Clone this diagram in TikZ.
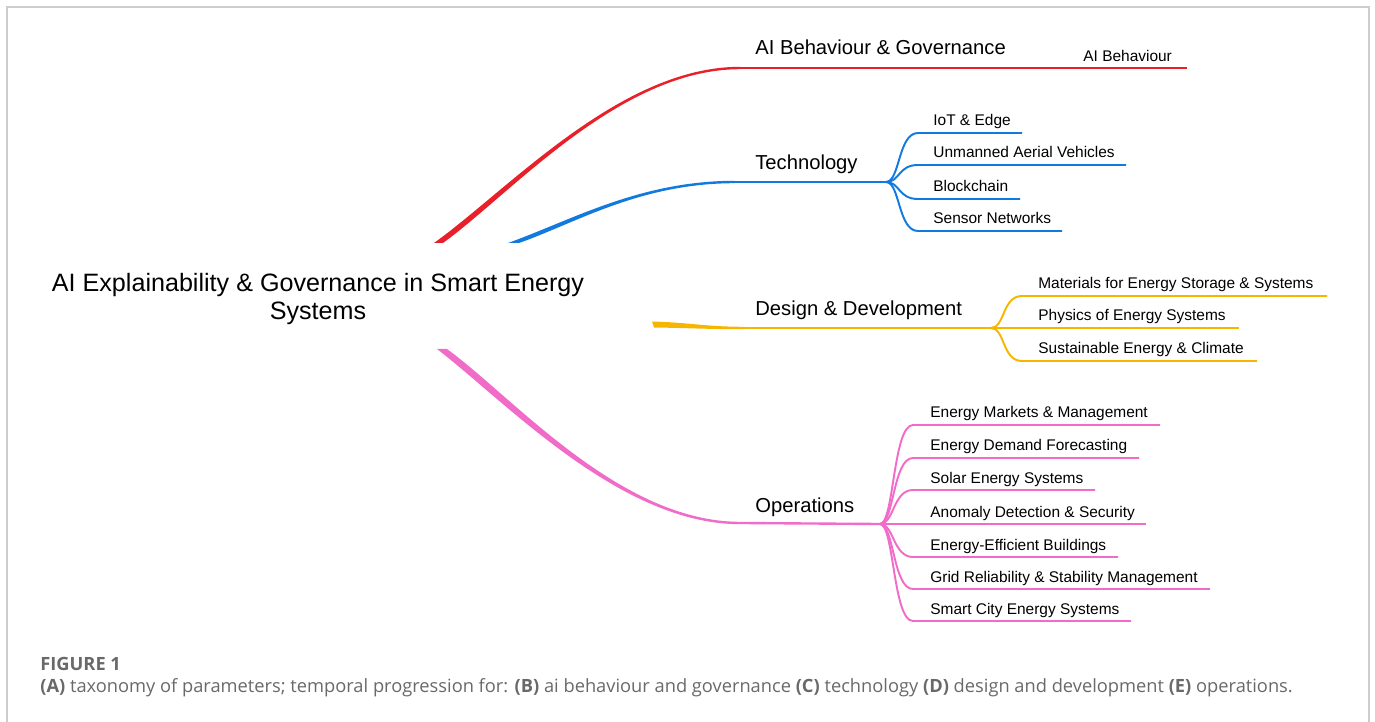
\documentclass[tikz,border=0pt]{standalone}
\usepackage{fontspec}
\setmainfont{Liberation Sans}
\newfontfamily\capfont{Open Sans}
\usetikzlibrary{calc}

\begin{document}
\begin{tikzpicture}[x=0.02cm,y=-0.02cm,
	mainlbl/.style={anchor=base west,inner sep=0pt,font=\fontsize{11.5}{13}\selectfont},
	sublbl/.style={anchor=base west,inner sep=0pt,font=\fontsize{8.8}{10}\selectfont},
	trunk/.style={line width=1.35pt},
	twig/.style={line width=1.1pt},
	captxt/.style={anchor=base west,inner sep=0pt,text=capgray}]
	\definecolor{govred}{RGB}{232,32,42}
	\definecolor{techblue}{RGB}{18,122,222}
	\definecolor{designyel}{RGB}{246,182,0}
	\definecolor{opspink}{RGB}{240,108,200}
	\definecolor{framegray}{RGB}{205,205,205}
	\definecolor{capgray}{RGB}{105,105,105}

	\useasboundingbox (0,0) rectangle (1375,722);
	\draw[framegray,line width=1.2pt] (7,722) -- (7,7) -- (1369,7) -- (1369,722);

	\node (title) at (318,299) [align=center,inner sep=0pt,font=\fontsize{14.3}{16.3}\selectfont] {AI Explainability \& Governance in Smart Energy\\Systems};

	\node (gov) at (755,55) [mainlbl] {AI Behaviour \& Governance};
	\node (tech) at (755,170) [mainlbl] {Technology};
	\node (design) at (755,316) [mainlbl] {Design \& Development};
	\node (ops) at (755,512) [mainlbl] {Operations};

	\coordinate (govstart) at (439,243);
	\coordinate (techstart) at (514,243);
	\coordinate (designstart) at (653,324.5);
	\coordinate (opsstart) at (442,349);
	\coordinate (govend) at (1187,68);
	\coordinate (techfork) at (886,182);
	\coordinate (designfork) at (991,328);
	\coordinate (opsfork) at (880,524);

	% tapered trunks
	\fill[govred] ($(govstart)+(-5,0)$) .. controls (508,190) and (620,66.8) .. (740,66.8) -- (740,69.2) .. controls (620,69.2) and (512,193) .. ($(govstart)+(4,0)$) -- cycle;
	\draw[govred,trunk] (740,68) -- (govend);

	\fill[techblue] ($(techstart)+(-6,0)$) .. controls (572,220) and (640,180.8) .. (735,180.8) -- (735,183.2) .. controls (640,183.2) and (576,223) .. ($(techstart)+(5,0)$) -- cycle;
	\draw[techblue,trunk] (735,182) -- (techfork);

	\fill[designyel] ($(designstart)+(-1,-3)$) .. controls (690,322.5) and (705,326.8) .. (745,326.8) -- (745,329.2) .. controls (705,329.2) and (690,328) .. ($(designstart)+(1,3)$) -- cycle;
	\draw[designyel,trunk] (745,328) -- (designfork);

	\fill[opspink] ($(opsstart)+(-5,0)$) .. controls (506,402) and (620,524.2) .. (740,524.2) -- (740,521.8) .. controls (620,521.8) and (513,397) .. ($(opsstart)+(5,0)$) -- cycle;
	\draw[opspink,trunk] (740,523) -- (opsfork);

	% leaves
	\node (govleaf) at (1083,62) [sublbl] {AI Behaviour};

	\foreach \yy/\xe/\txt [count=\i] in {133/1022/IoT \& Edge, 165/1126/Unmanned Aerial Vehicles, 199/1020/Blockchain, 231/1062/Sensor Networks}{
		\draw[techblue,twig] (techfork) .. controls +(14,0) and +(-20,0) .. (918,\yy) -- (\xe,\yy);
		\node (tech\i) at (933,\yy-7) [sublbl] {\txt};
	}

	\foreach \yy/\xe/\txt [count=\i] in {296/1327/Materials for Energy Storage \& Systems, 328/1239/Physics of Energy Systems, 361/1257/Sustainable Energy \& Climate}{
		\draw[designyel,twig] (designfork) .. controls +(14,0) and +(-20,0) .. (1022,\yy) -- (\xe,\yy);
		\node (design\i) at (1038,\yy-7) [sublbl] {\txt};
	}

	\foreach \yy/\xe/\txt [count=\i] in {425/1160/Energy Markets \& Management, 458/1139/Energy Demand Forecasting, 490/1095/Solar Energy Systems, 524/1146/Anomaly Detection \& Security, 557/1118/Energy-Efficient Buildings, 589/1210/Grid Reliability \& Stability Management, 621/1131/Smart City Energy Systems}{
		\draw[opspink,twig] (opsfork) .. controls +(14,0) and +(-20,0) .. (913,\yy) -- (\xe,\yy);
		\node (ops\i) at (930,\yy-7) [sublbl] {\txt};
	}

	% caption
	\node (figno) at (40,670) [captxt,font=\capfont\bfseries\fontsize{10.4}{12}\selectfont] {FIGURE 1};
	\node (caption) at (40,692) [captxt,font=\capfont\fontsize{10.4}{12}\selectfont] {\textbf{(A)} taxonomy of parameters; temporal progression for: \textbf{(B)} ai behaviour and governance \textbf{(C)} technology \textbf{(D)} design and development \textbf{(E)} operations.};
\end{tikzpicture}
\end{document}
